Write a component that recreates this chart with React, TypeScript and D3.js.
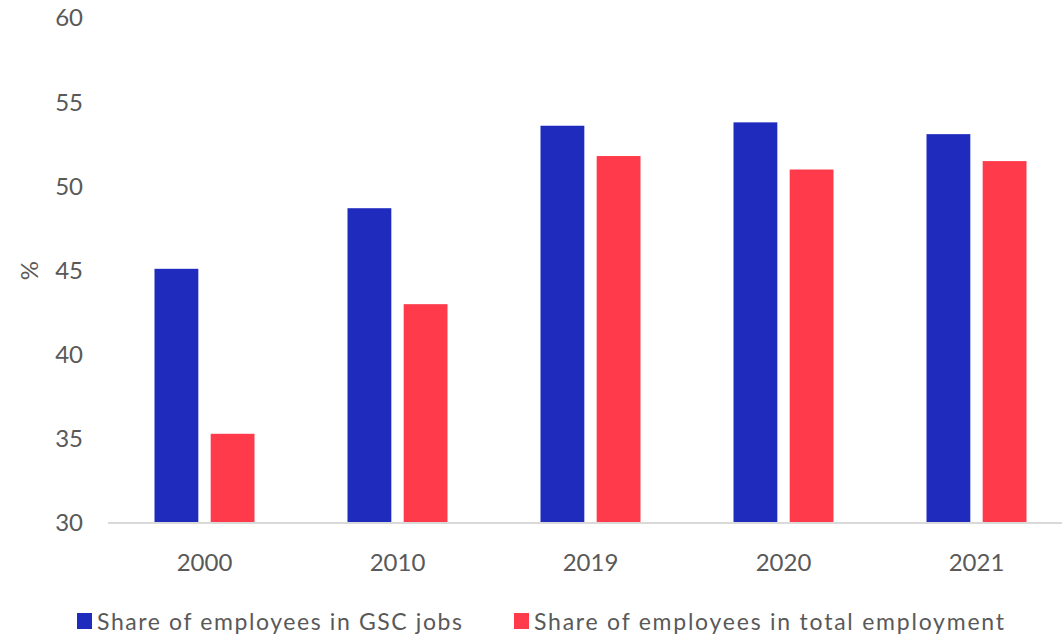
import React from "react";
import * as d3 from "d3";

const categories = ["2000", "2010", "2019", "2020", "2021"];
const gscShare = [45.1, 48.7, 53.6, 53.8, 53.1];
const totalShare = [35.3, 43.0, 51.8, 51.0, 51.5];
const seriesNames = ["Share of employees in GSC jobs", "Share of employees in total employment"];
const yTicks = [30, 35, 40, 45, 50, 55, 60];

const W = 1062;
const H = 641;
const BLUE = "#1e2bbd";
const RED = "#ff3b4b";
const TEXT = "#595959";
const FONT = "Lato, 'Open Sans', sans-serif";

export default function App() {
  const x = d3.scaleBand<string>().domain(categories).range([108, 1073]).paddingInner(0).paddingOuter(0);
  const y = d3.scaleLinear().domain([30, 60]).range([523, 18]);
  const inner = d3.scaleBand<number>().domain([0, 1]).range([-50, 50]).paddingInner(0.22);
  const series = [gscShare, totalShare];
  const colors = [BLUE, RED];
  const legendX = [77, 514];
  const legendLen = [365, 470];

  return (
    <svg width={W} height={H} style={{ position: "absolute", left: 0, top: 0, background: "#fff" }}>
      {yTicks.map((t) => (
        <text key={t} x={83} y={y(t)} dy="0.35em" textAnchor="end" fontSize={24} fill={TEXT} fontFamily={FONT}>
          {t}
        </text>
      ))}
      <text
        transform={`translate(30,${y(45)}) rotate(-90)`}
        textAnchor="middle"
        dy="0.35em"
        fontSize={24}
        fill={TEXT}
        fontFamily={FONT}
      >
        %
      </text>
      {categories.map((c, i) => {
        const cx = (x(c) as number) + x.bandwidth() / 2;
        return (
          <g key={c}>
            {series.map((s, k) => (
              <rect
                key={k}
                x={cx + (inner(k) as number)}
                y={y(s[i])}
                width={inner.bandwidth()}
                height={y(30) - y(s[i])}
                fill={colors[k]}
              />
            ))}
            <text x={cx} y={563} dy="0.35em" textAnchor="middle" fontSize={24} fill={TEXT} fontFamily={FONT}>
              {c}
            </text>
          </g>
        );
      })}
      <line x1={108} x2={W} y1={y(30)} y2={y(30)} stroke="#d9d9d9" strokeWidth={2} />
      {seriesNames.map((n, k) => (
        <g key={n}>
          <rect x={legendX[k]} y={613} width={15} height={16} fill={colors[k]} />
          <text
            x={legendX[k] + 20}
            y={622}
            dy="0.35em"
            fontSize={23}
            fill={TEXT}
            fontFamily={FONT}
            textLength={legendLen[k]}
            lengthAdjust="spacing"
          >
            {n}
          </text>
        </g>
      ))}
    </svg>
  );
}
